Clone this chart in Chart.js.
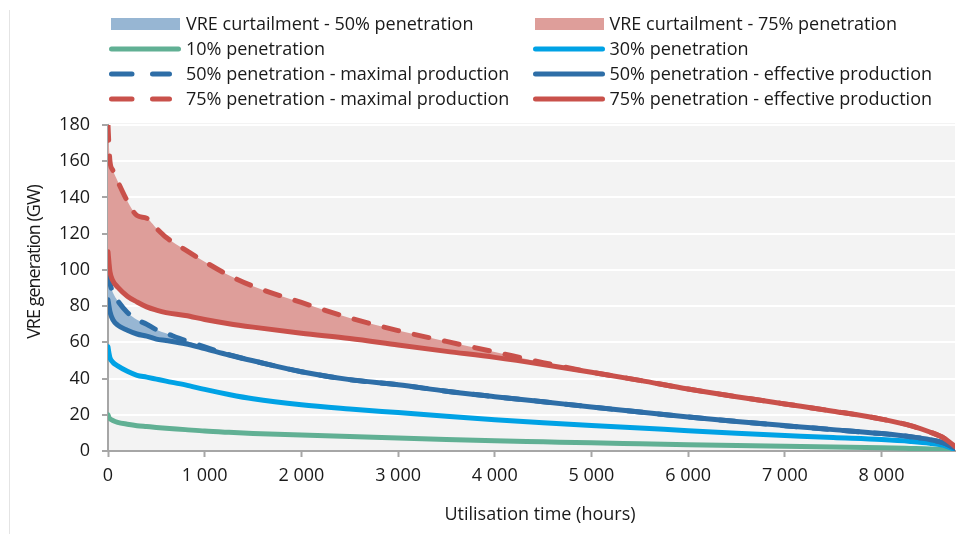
<!DOCTYPE html>
<html><head><meta charset="utf-8">
<script src="https://cdn.jsdelivr.net/npm/chart.js@4.4.1/dist/chart.umd.min.js"></script>
<style>
html,body{margin:0;padding:0;background:#fff;}
#wrap{position:relative;width:978px;height:534px;overflow:hidden;}
#edge{position:absolute;left:9px;top:10px;width:1px;height:524px;background:#e4e4e4;}
canvas{position:absolute;left:0;top:0;}
</style></head><body>
<div id="wrap"><div id="edge"></div><canvas id="c" width="978" height="534"></canvas></div>
<script>
// ---- data (hours of the year, sorted duration curves, GW) ----
const hours = [0, 10, 20, 50, 100, 200, 300, 400, 500, 600, 800, 1000, 1250, 1500, 2000, 2500, 3000, 3500, 4000, 4500, 5000, 5500, 6000, 6500, 7000, 7500, 8000, 8300, 8500, 8650, 8760];
const pen10 = [20, 18.5, 17.8, 16.8, 15.8, 14.8, 14, 13.5, 13, 12.6, 11.8, 11, 10.3, 9.7, 8.8, 8, 7.2, 6.4, 5.7, 5.1, 4.5, 4, 3.5, 3, 2.6, 2.2, 1.8, 1.4, 1.1, 0.7, 0.2];
const pen30 = [57.5, 54, 51.5, 49, 47, 44, 41.8, 40.8, 39.7, 38.6, 36.5, 34, 31.2, 28.8, 25.5, 23.2, 21.2, 19.2, 17.3, 15.6, 14.1, 12.7, 11.2, 9.8, 8.6, 7.4, 6.3, 5.3, 4.3, 3, 0.8];
const max50 = [98, 95, 92.5, 87.5, 83, 76.5, 72.5, 70, 67, 65, 61, 57.5, 53.2, 49.8, 43.8, 39.4, 36.6, 33, 30, 27.2, 24.3, 21.5, 18.8, 16.3, 14, 11.8, 9.6, 7.9, 6.3, 4.3, 1.5];
const eff50 = [83.5, 80, 77, 72.5, 69.5, 66.7, 64.6, 63.4, 61.8, 61, 59.2, 56.5, 53, 49.8, 43.8, 39.4, 36.6, 33, 30, 27.2, 24.3, 21.5, 18.8, 16.3, 14, 11.8, 9.6, 7.9, 6.3, 4.3, 1.5];
const max75 = [180, 168, 160, 155, 149, 138, 130, 128.5, 123, 118, 111, 104.5, 97, 91, 82, 73.5, 66.5, 60.5, 54.7, 48.8, 43.5, 39, 34.2, 30, 26, 22, 17.6, 14, 10.5, 7, 2.5];
const eff75 = [110, 104, 99, 94, 90.5, 85.5, 82.3, 79.6, 77.8, 76.4, 74.8, 72.6, 70.3, 68.4, 65, 62.1, 58.5, 55, 51.7, 47.8, 43.5, 39, 34.2, 30, 26, 22, 17.6, 14, 10.5, 7, 2.5];

const seriesLabels = [
  'VRE curtailment - 50% penetration',
  'VRE curtailment - 75% penetration',
  '10% penetration',
  '30% penetration',
  '50% penetration - maximal production',
  '50% penetration - effective production',
  '75% penetration - maximal production',
  '75% penetration - effective production'
];
const xTickValues = [0, 1000, 2000, 3000, 4000, 5000, 6000, 7000, 8000];
const xTitle = 'Utilisation time (hours)';
const yTitle = 'VRE generation (GW)';
const xMin = 0, xMax = 8760;
const yMin = 0, yMax = 180, yStep = 20;

const FONT = '"Open Sans", Lato, sans-serif';
const FS = 18;
const RED = '#c9514b', BLUE = '#2e6ea7', CYAN = '#00a2e5', GREEN = '#61b094';
const RED_FILL = '#de9e9a', BLUE_FILL = '#97b6d3';
const DASH = [15, 16];

function pts(vals) { return hours.map((h, i) => ({ x: h, y: vals[i] })); }
function fmt(v) { return String(v).replace(/\B(?=(\d{3})+(?!\d))/g, ' '); }

const datasets = [
  { label: seriesLabels[0], data: pts(max50), borderWidth: 0, borderColor: 'rgba(0,0,0,0)', backgroundColor: BLUE_FILL, fill: 5, order: 9 },
  { label: seriesLabels[1], data: pts(max75), borderWidth: 0, borderColor: 'rgba(0,0,0,0)', backgroundColor: RED_FILL, fill: 7, order: 10 },
  { label: seriesLabels[2], data: pts(pen10), borderColor: GREEN, borderWidth: 5, fill: false, order: 8 },
  { label: seriesLabels[3], data: pts(pen30), borderColor: CYAN, borderWidth: 5, fill: false, order: 7 },
  { label: seriesLabels[4], data: pts(max50), borderColor: BLUE, borderWidth: 5, borderDash: DASH, fill: false, order: 6 },
  { label: seriesLabels[5], data: pts(eff50), borderColor: BLUE, borderWidth: 5, fill: false, order: 5 },
  { label: seriesLabels[6], data: pts(max75), borderColor: RED, borderWidth: 5, borderDash: DASH, fill: false, order: 4 },
  { label: seriesLabels[7], data: pts(eff75), borderColor: RED, borderWidth: 5, fill: false, order: 3 }
];

const decor = {
  id: 'decor',
  beforeDraw(chart) {
    const { ctx, chartArea: a } = chart;
    ctx.save();
    ctx.fillStyle = '#f3f3f3';
    ctx.fillRect(a.left, a.top - 2, a.right - a.left, a.bottom - a.top + 2);
    ctx.restore();
  },
  afterDraw(chart) {
    const ctx = chart.ctx;
    ctx.save();
    // legend (2 columns, built from the datasets)
    const colSw = [111, 535], colTx = [186, 609.5];
    chart.data.datasets.forEach((ds, i) => {
      const col = i % 2, row = Math.floor(i / 2);
      const x0 = colSw[col], y = 24 + 25 * row;
      if (ds.fill !== false) {
        ctx.fillStyle = ds.backgroundColor;
        ctx.fillRect(x0, y - 6, 69, 12);
      } else {
        ctx.strokeStyle = ds.borderColor;
        ctx.lineWidth = 5;
        ctx.lineCap = 'round';
        ctx.beginPath();
        if (ds.borderDash) {
          ctx.moveTo(x0 + 0.5, y); ctx.lineTo(x0 + 21, y);
          ctx.moveTo(x0 + 41.5, y); ctx.lineTo(x0 + 58.5, y);
        } else {
          ctx.moveTo(x0 + 0.5, y); ctx.lineTo(x0 + 67.5, y);
        }
        ctx.stroke();
      }
      ctx.fillStyle = '#1a1a1a';
      ctx.font = FS + 'px ' + FONT;
      ctx.textBaseline = 'middle';
      ctx.textAlign = 'left';
      ctx.fillText(ds.label, colTx[col], y + 1);
    });
    // axis titles
    ctx.fillStyle = '#1a1a1a';
    ctx.font = FS + 'px ' + FONT;
    ctx.textAlign = 'center';
    ctx.textBaseline = 'middle';
    ctx.fillText(xTitle, 540, 515);
    ctx.translate(35, 262);
    ctx.rotate(-Math.PI / 2);
    if ('letterSpacing' in ctx) ctx.letterSpacing = '-1px';
    ctx.fillText(yTitle, 0, 0);
    ctx.restore();
  }
};

new Chart(document.getElementById('c'), {
  type: 'line',
  data: { datasets },
  plugins: [decor],
  options: {
    responsive: false,
    animation: false,
    layout: { padding: { top: 125, right: 23, bottom: 0, left: 0 } },
    plugins: { legend: { display: false }, tooltip: { enabled: false } },
    elements: {
      point: { radius: 0 },
      line: { cubicInterpolationMode: 'monotone', borderCapStyle: 'round', borderJoinStyle: 'round' }
    },
    scales: {
      x: {
        type: 'linear', min: xMin, max: xMax,
        afterBuildTicks(s) { s.ticks = xTickValues.map(v => ({ value: v })); },
        afterFit(s) { s.height = 83; },
        ticks: {
          autoSkip: false, color: '#1a1a1a', font: { family: FONT, size: FS }, padding: 8, maxRotation: 0,
          callback: v => fmt(v)
        },
        grid: { drawOnChartArea: false, tickLength: 6, tickColor: '#a6a6a6', tickWidth: 2 },
        border: { color: '#a6a6a6', width: 2 }
      },
      y: {
        min: yMin, max: yMax,
        afterFit(s) { s.width = 108; },
        ticks: { stepSize: yStep, color: '#1a1a1a', font: { family: FONT, size: FS }, padding: 12 },
        grid: { color: c => (c.tick && c.tick.value === 0) ? 'rgba(0,0,0,0)' : '#ffffff', lineWidth: 2, tickLength: 6, tickColor: '#a6a6a6', tickWidth: 2 },
        border: { color: '#a6a6a6', width: 2 }
      }
    }
  }
});
</script>
</body></html>
